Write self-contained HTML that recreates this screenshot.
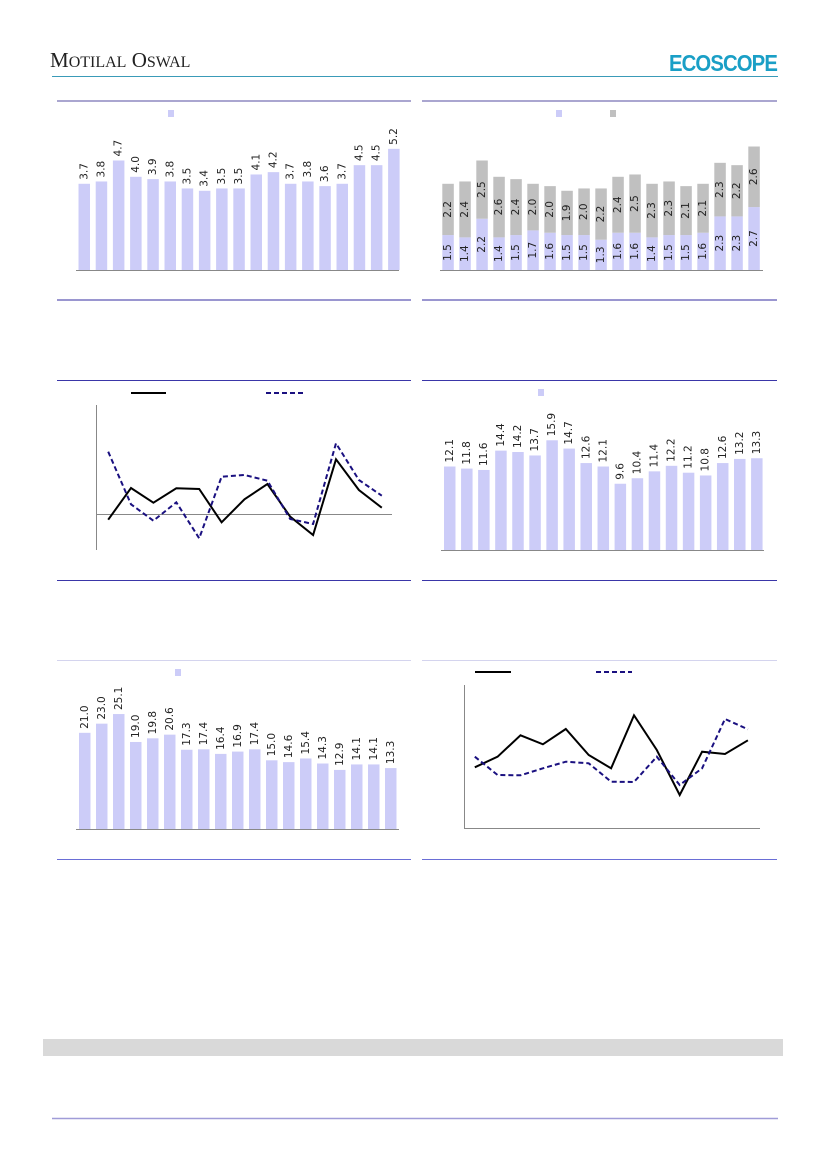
<!DOCTYPE html>
<html><head><meta charset="utf-8"><style>
html,body{margin:0;padding:0;background:#fff;}
svg{display:block;}
text{font-family:"DejaVu Sans","Liberation Sans",sans-serif;}
</style></head><body>
<svg id="s" width="827" height="1169" viewBox="0 0 827 1169" xmlns="http://www.w3.org/2000/svg">
<rect width="827" height="1169" fill="#fff"/>
<text x="50" y="67" font-family="Liberation Serif, serif" font-size="21" fill="#222" style="font-family:'Liberation Serif',serif">M<tspan font-size="16">OTILAL</tspan> O<tspan font-size="16">SWAL</tspan></text>
<text x="669" y="71" font-family="Liberation Sans" font-weight="bold" font-size="23" fill="#1a9fc6" style="font-family:'Liberation Sans',sans-serif;letter-spacing:-1px" textLength="108" lengthAdjust="spacingAndGlyphs">ECOSCOPE</text>
<line x1="52" y1="76.5" x2="778" y2="76.5" stroke="#3a9bb8" stroke-width="1"/>
<g stroke-width="2">
<line x1="57" y1="101" x2="411" y2="101" stroke="#aaa6d0"/>
<line x1="422" y1="101" x2="777" y2="101" stroke="#aaa6d0"/>
<line x1="57" y1="300" x2="411" y2="300" stroke="#9a96d0"/>
<line x1="422" y1="300" x2="777" y2="300" stroke="#9a96d0"/>
</g>
<g stroke-width="1">
<line x1="57" y1="380.5" x2="411" y2="380.5" stroke="#3a36a8"/>
<line x1="422" y1="380.5" x2="777" y2="380.5" stroke="#3a36a8"/>
<line x1="57" y1="580.5" x2="411" y2="580.5" stroke="#3a36a8"/>
<line x1="422" y1="580.5" x2="777" y2="580.5" stroke="#3a36a8"/>
<line x1="57" y1="660.5" x2="411" y2="660.5" stroke="#d4d4ee"/>
<line x1="422" y1="660.5" x2="777" y2="660.5" stroke="#d4d4ee"/>
<line x1="57" y1="859.5" x2="411" y2="859.5" stroke="#6a6ed6"/>
<line x1="422" y1="859.5" x2="777" y2="859.5" stroke="#6a6ed6"/>
</g>
<rect x="43" y="1039" width="740" height="17" fill="#d9d9d9"/>
<line x1="52" y1="1118.5" x2="778" y2="1118.5" stroke="#a09cd8" stroke-width="1.5"/>
<!-- legends -->
<rect x="168" y="110" width="6" height="7" fill="#ccccf8"/>
<rect x="556" y="110" width="6" height="7" fill="#ccccf8"/>
<rect x="610" y="110" width="6" height="7" fill="#c0c0c0"/>
<rect x="538" y="389" width="6" height="7" fill="#ccccf8"/>
<rect x="175" y="669" width="6" height="7" fill="#ccccf8"/>
<line x1="131" y1="393" x2="166" y2="393" stroke="#000" stroke-width="2"/>
<line x1="266" y1="393" x2="305" y2="393" stroke="#1a1080" stroke-width="2" stroke-dasharray="5,3"/>
<line x1="475" y1="672" x2="511" y2="672" stroke="#000" stroke-width="2"/>
<line x1="596" y1="672" x2="632" y2="672" stroke="#1a1080" stroke-width="2" stroke-dasharray="5,3"/>
<!-- line chart 1 axes -->
<line x1="96.5" y1="405" x2="96.5" y2="550" stroke="#888"/>
<line x1="96" y1="514.5" x2="392" y2="514.5" stroke="#888"/>
<polyline fill="none" stroke="#000" stroke-width="2" points="108.2,519.7 131,488 153.4,502.7 176.3,488.3 199.2,489 221.6,522.3 244.5,499.3 267.4,484 290.2,516.7 313.1,535 336,459.3 358.9,490 381.8,507.7"/>
<polyline fill="none" stroke="#1a1080" stroke-width="2" stroke-dasharray="5,3" points="108.2,451.7 131,504.3 153.4,520.7 176.3,502.3 199.2,538.3 221.6,476.7 244.5,475 267.4,480.7 290.2,519 313.1,524 336,443.3 358.9,480 381.8,495.7"/>
<!-- line chart 2 -->
<line x1="464.5" y1="685" x2="464.5" y2="828" stroke="#888"/>
<line x1="464" y1="828.5" x2="760" y2="828.5" stroke="#888"/>
<polyline fill="none" stroke="#000" stroke-width="2" points="474.8,767.3 497.6,756.7 520.5,735.3 542.9,744.3 565.8,729 588.7,755 611.1,768.3 634,715.3 656.8,750 679.7,795 702.1,751.7 725,754 747.9,740.3"/>
<polyline fill="none" stroke="#1a1080" stroke-width="2" stroke-dasharray="5,3" points="474.8,756.7 497.6,775 520.5,775.3 542.9,768.3 565.8,761.7 588.7,763.3 611.1,781.7 634,782 656.8,756.7 679.7,785 702.1,768.3 725,719 747.9,729.3"/>
<g id="bars"></g>
</svg>
<script>
var NS="http://www.w3.org/2000/svg",g=document.getElementById("bars");
function el(t,a,txt){var e=document.createElementNS(NS,t);for(var k in a)e.setAttribute(k,a[k]);if(txt)e.textContent=txt;g.appendChild(e);return e;}
function lbl(x,y,s,anchor){el("text",{x:0,y:0,"font-size":"10.5","fill":"#222","text-anchor":anchor,"dominant-baseline":"central",transform:"translate("+x+","+y+") rotate(-90)"},s);}
function simple(vals,x0,pitch,base,k,axisX1,axisX2){
 vals.forEach(function(v,i){var x=x0+i*pitch,h=v*k;
  el("rect",{x:x,y:base-h,width:11.5,height:h,fill:"#ccccf8"});
  lbl(x+5.8,base-h-4,v.toFixed(1),"start");});
 el("line",{x1:axisX1,y1:base+0.5,x2:axisX2,y2:base+0.5,stroke:"#888"});}
simple([3.7,3.8,4.7,4.0,3.9,3.8,3.5,3.4,3.5,3.5,4.1,4.2,3.7,3.8,3.6,3.7,4.5,4.5,5.2],78.5,17.2,270,23.3,76,399);
simple([12.1,11.8,11.6,14.4,14.2,13.7,15.9,14.7,12.6,12.1,9.6,10.4,11.4,12.2,11.2,10.8,12.6,13.2,13.3],444,17.06,550,6.9,441,764);
simple([21.0,23.0,25.1,19.0,19.8,20.6,17.3,17.4,16.4,16.9,17.4,15.0,14.6,15.4,14.3,12.9,14.1,14.1,13.3],79,17.0,829,4.58,76,399);
var a=[1.5,1.4,2.2,1.4,1.5,1.7,1.6,1.5,1.5,1.3,1.6,1.6,1.4,1.5,1.5,1.6,2.3,2.3,2.7],b=[2.2,2.4,2.5,2.6,2.4,2.0,2.0,1.9,2.0,2.2,2.4,2.5,2.3,2.3,2.1,2.1,2.3,2.2,2.6];
a.forEach(function(v,i){var x=442.3+i*17.0,k=23.3,h1=v*k,h2=b[i]*k,base=270;
 el("rect",{x:x,y:base-h1,width:11.5,height:h1,fill:"#ccccf8"});
 el("rect",{x:x,y:base-h1-h2,width:11.5,height:h2,fill:"#c0c0c0"});
 lbl(x+5.8,base-h1/2,v.toFixed(1),"middle");
 lbl(x+5.8,base-h1-h2/2,b[i].toFixed(1),"middle");});
el("line",{x1:440,y1:270.5,x2:763,y2:270.5,stroke:"#888"});
</script>
</body></html>
